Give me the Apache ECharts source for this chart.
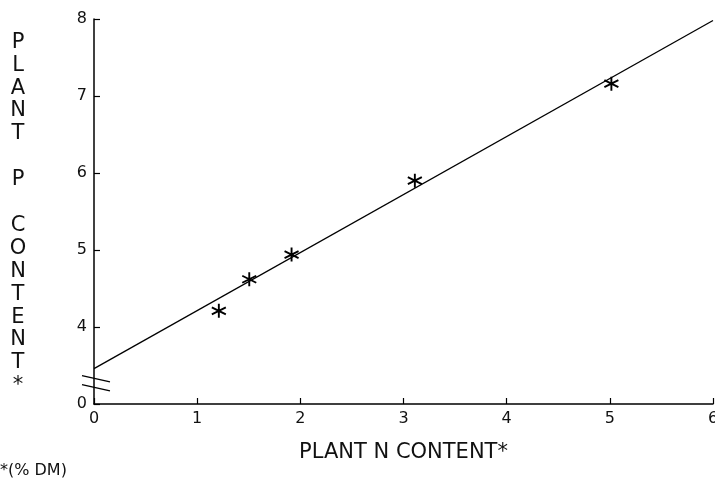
<!DOCTYPE html>
<html>
<head>
<meta charset="utf-8">
<script src="https://cdn.jsdelivr.net/npm/echarts@6/dist/echarts.min.js"></script>
<style>
html,body{margin:0;padding:0;background:#fff;}
#chart{width:715px;height:483px;}
</style>
</head>
<body>
<div id="chart"></div>
<script>
// Data
var nContent = [1.21, 1.505, 1.915, 3.11, 5.015];
var pContent = [4.21, 4.62, 4.94, 5.90, 7.16];
var fitX = [0, 6];
var fitY = [3.46, 7.98];
var xTicks = [0, 1, 2, 3, 4, 5, 6];
var yTicks = [3, 4, 5, 6, 7, 8];
var yTickLabels = ['0', '4', '5', '6', '7', '8'];
var yAxisTitle = 'P\nL\nA\nN\nT\n\nP\n\nC\nO\nN\nT\nE\nN\nT\n*';
var xAxisTitle = 'PLANT N CONTENT*';
var footnote = '*(% DM)';

var FONT = 'DejaVu Sans';
var chart = echarts.init(document.getElementById('chart'), null, {renderer: 'canvas'});

var points = nContent.map(function (x, i) { return [x, pContent[i]]; });
var fitLine = fitX.map(function (x, i) { return [x, fitY[i]]; });

var star = 'path://M7,0L7,14M0.9,3.5L13.1,10.5M0.9,10.5L13.1,3.5';

var option = {
  backgroundColor: '#fff',
  animation: false,
  grid: {left: 94, right: 2, top: 19, bottom: 79, containLabel: false, outerBoundsMode: 'none'},
  xAxis: {
    type: 'value',
    min: xTicks[0], max: xTicks[xTicks.length - 1], interval: 1,
    name: xAxisTitle,
    nameLocation: 'middle',
    nameGap: 38,
    nameTextStyle: {fontFamily: FONT, fontSize: 21, color: '#111'},
    axisLine: {show: true, lineStyle: {color: '#000', width: 1.5}},
    axisTick: {show: true, inside: true, length: 6, lineStyle: {color: '#000', width: 1.2}},
    axisLabel: {fontFamily: FONT, fontSize: 16, color: '#111', margin: 7, hideOverlap: false},
    splitLine: {show: false}
  },
  yAxis: {
    type: 'value',
    min: yTicks[0], max: yTicks[yTicks.length - 1], interval: 1,
    axisLine: {show: true, lineStyle: {color: '#000', width: 1.5}},
    axisTick: {show: true, inside: true, length: 6, lineStyle: {color: '#000', width: 1.2}},
    axisLabel: {
      fontFamily: FONT, fontSize: 16, color: '#111', margin: 7,
      formatter: function (v) {
        var i = yTicks.indexOf(v);
        return i >= 0 ? yTickLabels[i] : '';
      }
    },
    splitLine: {show: false}
  },
  graphic: [
    {
      type: 'text',
      x: 18,
      y: 214,
      style: {
        text: yAxisTitle, font: '21px "DejaVu Sans"', fill: '#111',
        align: 'center', verticalAlign: 'middle', lineHeight: 22.9
      }
    },
    {
      type: 'text',
      left: 0,
      top: 463,
      style: {text: footnote, font: '16px "DejaVu Sans"', fill: '#111'}
    }
  ],
  series: [
    {
      type: 'line',
      data: fitLine,
      symbol: 'none',
      lineStyle: {color: '#000', width: 1.3},
      z: 2
    },
    {
      type: 'scatter',
      data: points,
      symbol: star,
      symbolSize: 14,
      itemStyle: {color: 'rgba(0,0,0,0)', borderColor: '#000', borderWidth: 1.9, opacity: 1},
      z: 3
    }
  ]
};
chart.setOption(option);

// Axis break marks near the bottom of the y axis, positioned via the axis scale
var c = chart.convertToPixel({gridIndex: 0}, [0, 3.27]);
var breaks = [-4.5, 4.5].map(function (off) {
  return {
    type: 'line',
    shape: {x1: c[0] - 12, y1: c[1] + off - 3.2, x2: c[0] + 16, y2: c[1] + off + 3.2},
    style: {stroke: '#000', lineWidth: 1.3}
  };
});
chart.setOption({graphic: option.graphic.concat(breaks)});
</script>
</body>
</html>
